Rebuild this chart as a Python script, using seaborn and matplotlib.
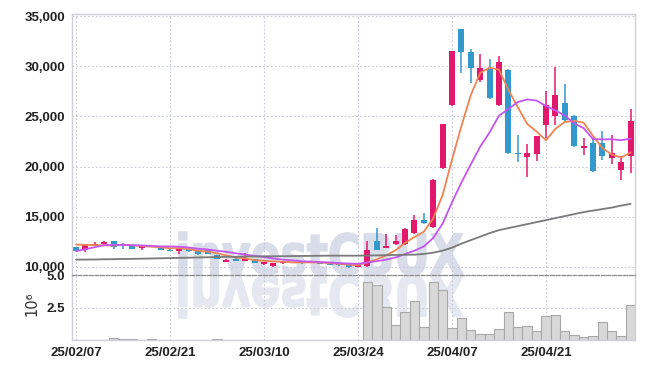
import matplotlib
matplotlib.use('Agg')
import matplotlib.pyplot as plt
import numpy as np
import pandas as pd
import seaborn as sns
from matplotlib.ticker import FuncFormatter, FixedLocator
from matplotlib.textpath import TextPath
from matplotlib.patches import PathPatch
from matplotlib.font_manager import FontProperties
from matplotlib.transforms import Affine2D


# Chart data
date_labels = ['25/02/07', '25/02/21', '25/03/10', '25/03/24', '25/04/07', '25/04/21']
date_pos = [0, 10, 20, 30, 40, 50]

opens = [11970, 11700, 12130, 12300, 12530, 12200, 12170, 11830, 12000, 12100,
         11700, 11570, 11730, 11630, 11630, 11170, 10470, 10800, 10570, 10730,
         10230, 10100, 10330, 10370, 10430, 10370, 10370, 10300, 10230, 10300,
         9970, 10030, 12600, 11900, 12230, 12270, 13370, 14700, 13970, 19830,
         26130, 33700, 31470, 28630, 29770, 26130, 29600, 21400, 20970, 21230,
         24170, 25030, 26330, 25030, 21900, 22300, 22300, 20830, 19630, 21030]
closes = [11600, 12170, 12300, 12500, 11970, 12100, 11770, 12030, 12100, 11700,
          11600, 11830, 11570, 11230, 11300, 10770, 10700, 10570, 10830, 10370,
          10470, 10370, 10470, 10470, 10370, 10470, 10270, 10170, 10170, 9930,
          10200, 11700, 11700, 12100, 12530, 13800, 14700, 14330, 18700, 24200,
          31500, 31470, 29800, 29800, 26800, 30470, 21370, 21230, 21400, 23000,
          26100, 27100, 24630, 22030, 22030, 19530, 21030, 21370, 20500, 24570]
highs = [12000, 12200, 12450, 12550, 12600, 12400, 12200, 12100, 12200, 12100,
         11750, 11850, 11750, 11700, 11800, 11200, 10720, 10830, 11370, 10750,
         10500, 10400, 10500, 10500, 10500, 10500, 10400, 10330, 10250, 10330,
         10230, 12530, 13870, 13270, 13200, 13850, 15200, 15370, 18750, 24250,
         31550, 33750, 31770, 31270, 30700, 31030, 29700, 23170, 22270, 23050,
         27530, 29970, 28200, 25100, 22830, 22800, 23530, 23100, 21030, 25770]
lows = [11550, 11500, 12100, 12250, 11800, 11800, 11750, 11700, 11950, 11650,
        11550, 11230, 11500, 11200, 11250, 10750, 10450, 10550, 10550, 10350,
        10200, 9980, 10300, 10350, 10250, 10350, 10250, 10150, 10100, 9900,
        9930, 9930, 11650, 11850, 12150, 12200, 13300, 14250, 13900, 19800,
        26050, 29300, 28370, 28430, 26700, 26050, 21300, 20430, 18930, 20530,
        22830, 24100, 24400, 21950, 21200, 19450, 20700, 20300, 18700, 19370]

ma5 = [12200, 12180, 12150, 12130, 12108, 12208, 12128, 12074, 11994, 11940,
       11840, 11852, 11760, 11586, 11506, 11340, 11114, 10914, 10834, 10648,
       10588, 10522, 10502, 10430, 10430, 10430, 10410, 10350, 10290, 10202,
       10148, 10434, 10740, 11126, 11646, 12366, 12966, 13492, 14812, 17146,
       20686, 24040, 27134, 29354, 29874, 29668, 27648, 25934, 24254, 23494,
       22620, 23766, 24446, 24572, 24378, 23064, 21850, 21200, 20894, 21402]
ma10 = [11550, 11750, 11950, 12150, 12170, 12170, 12150, 12120, 12080, 12024,
        12024, 11990, 11917, 11790, 11723, 11590, 11483, 11337, 11210, 11077,
        10964, 10818, 10708, 10632, 10539, 10509, 10466, 10426, 10360, 10316,
        10289, 10422, 10545, 10708, 10924, 11257, 11600, 12016, 12869, 14296,
        16426, 18403, 20213, 21983, 23410, 25077, 25744, 26434, 26704, 26584,
        26044, 25607, 25090, 24313, 23836, 22742, 22708, 22722, 22632, 22789]
ma60 = [10700, 10710, 10720, 10740, 10750, 10770, 10780, 10800, 10820, 10840,
        10860, 10880, 10900, 10920, 10940, 10960, 10980, 10990, 11010, 11020,
        11030, 11040, 11050, 11060, 11070, 11080, 11090, 11100, 11100, 11100,
        11100, 11120, 11130, 11150, 11170, 11190, 11200, 11270, 11400, 11600,
        11900, 12300, 12650, 13000, 13350, 13650, 13850, 14050, 14250, 14450,
        14650, 14850, 15050, 15250, 15450, 15600, 15750, 15900, 16100, 16270]

# volume in millions of shares
volume = [0.03, 0.03, 0.02, 0.03, 0.12, 0.05, 0.04, 0.02, 0.06, 0.02,
          0.02, 0.03, 0.02, 0.02, 0.03, 0.10, 0.02, 0.03, 0.02, 0.02,
          0.02, 0.02, 0.02, 0.02, 0.02, 0.02, 0.02, 0.02, 0.02, 0.02,
          0.02, 4.50, 4.24, 2.55, 1.15, 2.16, 3.02, 1.02, 4.50, 3.88,
          0.94, 1.72, 0.78, 0.44, 0.44, 0.83, 2.16, 0.99, 1.09, 0.68,
          1.85, 1.93, 0.68, 0.39, 0.21, 0.31, 1.38, 0.68, 0.31, 2.71]

UP = '#E2186D'
DOWN = '#3399CC'

df = pd.DataFrame({'idx': np.arange(len(opens)), 'open': opens, 'close': closes,
                   'high': highs, 'low': lows, 'vol': volume})
ma = pd.DataFrame({'idx': np.tile(df['idx'], 3),
                   'value': ma5 + ma10 + ma60,
                   'line': ['MA5'] * len(ma5) + ['MA10'] * len(ma10) + ['MA60'] * len(ma60)})

sns.set_style('white')
plt.rcParams['font.family'] = ['Liberation Sans', 'DejaVu Sans']
plt.rcParams['font.weight'] = 'bold'

fig = plt.figure(figsize=(6.45, 3.70), dpi=100)
ax = fig.add_axes([72 / 645, 1 - 275 / 370, 563 / 645, 261 / 370])
ax_v = fig.add_axes([72 / 645, 1 - 340 / 370, 563 / 645, 65 / 370], sharex=ax)

# watermark with reflection
fp = FontProperties(family='DejaVu Sans', weight='bold')
tp = TextPath((0, 0), 'investCBUX', size=1, prop=fp)
bb = tp.get_extents()
sx, sy = 284 / bb.width / 100, 43 / bb.height / 100
shift = Affine2D().translate(-bb.x0, -bb.y0)
t_up = shift + Affine2D().scale(sx, sy).translate(1.79, 0.95) + fig.dpi_scale_trans
t_dn = shift + Affine2D().scale(sx, -sy).translate(1.79, 0.95) + fig.dpi_scale_trans
fig.add_artist(PathPatch(tp, transform=t_up, facecolor='#d9ddea', edgecolor='#d9ddea',
                         linewidth=1.2, zorder=-2))
fig.add_artist(PathPatch(tp, transform=t_dn, facecolor='#e6e8f1', edgecolor='#e6e8f1',
                         linewidth=1.2, zorder=-2))

for a in (ax, ax_v):
    a.set_facecolor('none')
    a.grid(True, color='#c8cad8', linestyle=(0, (1.5, 2)), linewidth=0.8)
    for s in a.spines.values():
        s.set_color('#cfd0d8')
        s.set_linewidth(1.0)
    a.tick_params(length=0, pad=5, labelsize=9.5, labelcolor='#222222')

# candles
up = df['close'] >= df['open']
colors = np.where(up, UP, DOWN)
body_lo = np.minimum(df['open'], df['close'])
body_h = np.maximum(np.abs(df['close'] - df['open']), 60)
ax.vlines(df['idx'], df['low'], df['high'], colors=colors, linewidth=1.1, zorder=2)
ax.bar(df['idx'], body_h, bottom=body_lo, width=0.64, color=colors, linewidth=0, zorder=2)

sns.lineplot(data=ma, x='idx', y='value', hue='line', ax=ax, legend=False,
             palette={'MA5': '#EE8452', 'MA10': '#C455F0', 'MA60': '#7a7a7a'},
             linewidth=1.3, zorder=3)

ax.set_ylim(9170, 35230)
ax.set_xlim(-0.43, 59.47)
ax.yaxis.set_major_locator(FixedLocator([10000, 15000, 20000, 25000, 30000, 35000]))
ax.yaxis.set_major_formatter(FuncFormatter(lambda v, p: f'{v:,.0f}'))
ax.xaxis.set_major_locator(FixedLocator(date_pos))
ax.tick_params(axis='x', labelbottom=False)
ax.spines['bottom'].set_visible(False)
ax.set_xlabel('')
ax.set_ylabel('')

# volume
sns.barplot(data=df, x='idx', y='vol', native_scale=True, ax=ax_v, width=1.0,
            color='#d8d8d8', edgecolor='#a8a8a8', linewidth=0.8, errorbar=None,
            saturation=1, zorder=2)
ax_v.set_ylim(0, 5.0)
ax_v.set_xlim(-0.43, 59.47)
ax_v.yaxis.set_major_locator(FixedLocator([2.5, 5.0]))
ax_v.yaxis.set_major_formatter(FuncFormatter(lambda v, p: f'{v:.1f}'))
ax_v.xaxis.set_major_locator(FixedLocator(date_pos))
ax_v.set_xticklabels(date_labels)
ax_v.spines['top'].set_color('#8a8a8a')
ax_v.spines['top'].set_linewidth(0.9)
ax_v.spines['top'].set_linestyle((0, (3, 1.5)))
ax_v.set_xlabel('')
ax_v.set_ylabel('')
fig.text(32 / 645, 1 - 304 / 370, '10\u2076', rotation=90, ha='center', va='center',
         fontsize=10.5, fontweight='normal', family='DejaVu Sans', color='#333333')

fig.savefig('out.png', dpi=100)
